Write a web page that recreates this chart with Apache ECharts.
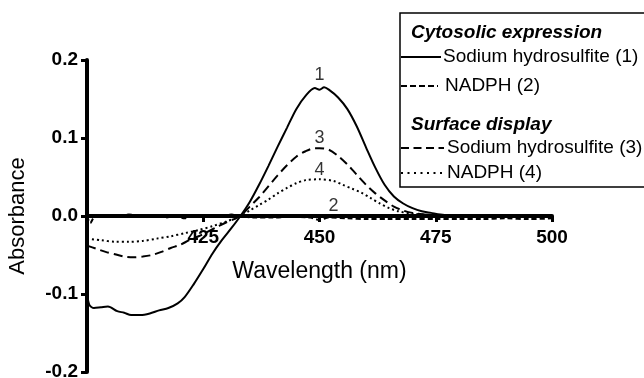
<!DOCTYPE html>
<html>
<head>
<meta charset="utf-8">
<script src="https://cdn.jsdelivr.net/npm/echarts@6/dist/echarts.min.js"></script>
<style>
  html, body { margin: 0; padding: 0; background: #fff; }
  #chart { width: 644px; height: 378px; }
</style>
</head>
<body>
<div id="chart"></div>
<script>
// wavelength (nm) / absorbance pairs
const wlSodiumCyto = [400, 400.5, 401.5, 403, 404.5, 406.5, 408, 409.5, 411.5, 413.5, 415.5, 417.5, 419.5, 421, 423, 425, 427, 429, 431, 433, 435, 437, 439, 441, 443, 445, 447, 449, 450, 451, 452, 454, 456, 458, 460, 462, 464, 466, 468, 470, 472, 474, 476, 478, 482, 490, 500]
const absSodiumCyto = [-0.098, -0.114, -0.118, -0.117, -0.116, -0.122, -0.124, -0.127, -0.127, -0.125, -0.121, -0.118, -0.112, -0.104, -0.087, -0.068, -0.048, -0.031, -0.016, 0.0, 0.018, 0.040, 0.064, 0.089, 0.113, 0.137, 0.154, 0.164, 0.162, 0.165, 0.162, 0.152, 0.137, 0.115, 0.088, 0.062, 0.040, 0.025, 0.016, 0.010, 0.006, 0.004, 0.002, 0.001, 0, 0, 0]

const wlNadphCyto = [400, 400.7, 401.5, 403, 405, 407, 409, 411, 413, 415, 417, 419, 421, 423, 425, 427, 429, 431, 433, 436, 440, 444, 448, 450, 452, 456, 460, 465, 470, 475, 480, 485, 490, 495, 500]
const absNadphCyto = [0, -0.009, -0.002, 0.0, 0.001, -0.001, 0.002, 0.0, -0.001, 0.001, -0.002, 0.001, -0.003, 0.0, -0.001, 0.001, -0.001, 0.002, 0.0, -0.002, -0.002, -0.001, -0.002, -0.005, -0.002, -0.003, -0.004, -0.004, -0.004, -0.004, -0.004, -0.004, -0.003, -0.004, -0.003]

const wlSodiumSurf = [400, 402, 404, 406, 408, 410, 412, 414, 416, 418, 420, 422, 424, 426, 428, 430, 432, 433, 435, 437, 439, 441, 443, 445, 447, 449, 450, 452, 454, 456, 458, 460, 462, 464, 466, 468, 470, 474, 478, 500]
const absSodiumSurf = [-0.038, -0.042, -0.046, -0.049, -0.052, -0.053, -0.052, -0.050, -0.046, -0.041, -0.037, -0.031, -0.026, -0.020, -0.014, -0.008, -0.003, 0.0, 0.012, 0.024, 0.038, 0.052, 0.065, 0.076, 0.083, 0.087, 0.087, 0.085, 0.077, 0.066, 0.053, 0.040, 0.029, 0.020, 0.012, 0.007, 0.004, 0.001, 0, -0.001]

const wlNadphSurf = [400, 403, 406, 409, 412, 415, 418, 421, 424, 427, 430, 433, 435, 437, 439, 441, 443, 445, 447, 450, 453, 455, 457, 459, 461, 463, 465, 467, 470, 475, 480, 500]
const absNadphSurf = [-0.029, -0.031, -0.033, -0.033, -0.032, -0.029, -0.026, -0.022, -0.018, -0.013, -0.007, 0.0, 0.007, 0.014, 0.021, 0.029, 0.036, 0.042, 0.046, 0.047, 0.045, 0.040, 0.035, 0.030, 0.023, 0.016, 0.010, 0.006, 0.003, 0.001, 0, -0.001]

const peakNames = ['1', '3', '4', '2']
const peakWl = [450, 450, 450, 453]
const peakAbs = [0.164, 0.083, 0.042, -0.004]

const xTicks = [400, 425, 450, 475, 500]
const yTicks = [-0.2, -0.1, 0.0, 0.1, 0.2]

const font = 'Liberation Sans, Arial, sans-serif'
const pairs = (xs, ys) => xs.map((x, i) => [x, ys[i]])

const myChart = echarts.init(document.getElementById('chart'))

const lineSeries = (data, dash) => ({
    type: 'line',
    data: data,
    showSymbol: false,
    smooth: 0.3,
    lineStyle: { color: '#000', width: 2, type: dash },
    silent: true,
    animation: false
})

const legendRows = [
    { y: 57, text: 'Sodium hydrosulfite (1)', tx: 443, dash: 'solid', x2: 441 },
    { y: 86, text: 'NADPH (2)', tx: 445, dash: [6, 3], x2: 438 },
    { y: 148, text: 'Sodium hydrosulfite (3)', tx: 447, dash: [8, 4.5], x2: 444 },
    { y: 173, text: 'NADPH (4)', tx: 447, dash: [2, 4.5], x2: 442 }
]

const graphics = [
    { type: 'rect', shape: { x: 400, y: 13, width: 260, height: 174 }, style: { fill: '#fff', stroke: '#000', lineWidth: 1.5 }, z: 10 },
    { type: 'text', x: 411, y: 33, style: { text: 'Cytosolic expression', font: 'italic bold 19px ' + font, fill: '#000', textVerticalAlign: 'middle' }, z: 11 },
    { type: 'text', x: 411, y: 125, style: { text: 'Surface display', font: 'italic bold 19px ' + font, fill: '#000', textVerticalAlign: 'middle' }, z: 11 }
]
legendRows.forEach((r) => {
    graphics.push({ type: 'line', shape: { x1: 401, y1: r.y, x2: r.x2, y2: r.y }, style: { stroke: '#000', lineWidth: 2, lineDash: r.dash === 'solid' ? null : r.dash }, z: 11 })
    graphics.push({ type: 'text', x: r.tx, y: r.y, style: { text: r.text, font: '19px ' + font, fill: '#000', textVerticalAlign: 'middle' }, z: 11 })
})

const option = {
    animation: false,
    backgroundColor: '#fff',
    grid: { left: 87, right: 92, top: 60, bottom: 6, containLabel: false, outerBoundsMode: 'none' },
    xAxis: {
        type: 'value',
        min: xTicks[0],
        max: xTicks[xTicks.length - 1],
        interval: 25,
        offset: -156,
        name: 'Wavelength (nm)',
        nameLocation: 'middle',
        nameGap: 44,
        nameTextStyle: { color: '#000', fontFamily: font, fontSize: 23 },
        axisLine: { onZero: false, lineStyle: { color: '#000', width: 4 } },
        axisTick: { length: 6, lineStyle: { color: '#000', width: 3 } },
        axisLabel: {
            color: '#000', fontFamily: font, fontSize: 19, fontWeight: 'bold', margin: 12,
            formatter: (v) => (v === 400 ? '' : String(v))
        },
        splitLine: { show: false }
    },
    yAxis: {
        type: 'value',
        min: yTicks[0],
        max: yTicks[yTicks.length - 1],
        interval: 0.1,
        name: 'Absorbance',
        nameLocation: 'middle',
        nameGap: 58,
        nameTextStyle: { color: '#000', fontFamily: font, fontSize: 22 },
        axisLine: { lineStyle: { color: '#000', width: 4 } },
        axisTick: { length: 6, lineStyle: { color: '#000', width: 3 } },
        axisLabel: {
            color: '#000', fontFamily: font, fontSize: 19, fontWeight: 'bold', margin: 9,
            formatter: (v) => v.toFixed(1)
        },
        splitLine: { show: false }
    },
    graphic: graphics,
    series: [
        lineSeries(pairs(wlSodiumCyto, absSodiumCyto), 'solid'),
        lineSeries(pairs(wlNadphCyto, absNadphCyto), [5, 3]),
        lineSeries(pairs(wlSodiumSurf, absSodiumSurf), [9, 5]),
        lineSeries(pairs(wlNadphSurf, absNadphSurf), [2, 3]),
        {
            type: 'scatter',
            symbolSize: 0,
            silent: true,
            data: peakNames.map((n, i) => ({ name: n, value: [peakWl[i], peakAbs[i]] })),
            label: {
                show: true, position: 'top', distance: 4,
                formatter: (p) => p.name,
                color: '#000', fontFamily: font, fontSize: 18
            }
        }
    ]
}
myChart.setOption(option)
</script>
</body>
</html>
